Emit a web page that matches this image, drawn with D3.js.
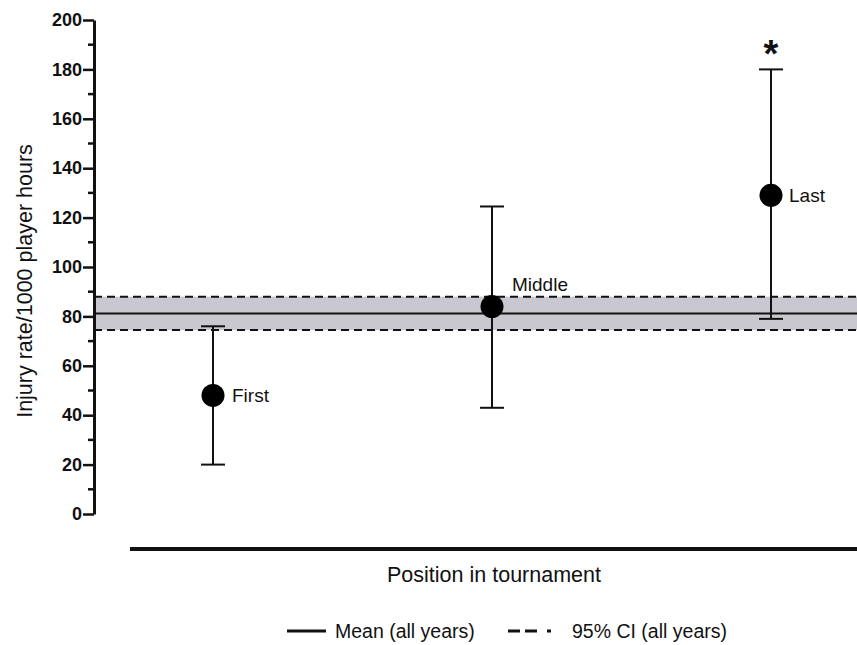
<!DOCTYPE html>
<html><head><meta charset="utf-8">
<script src="https://cdn.jsdelivr.net/npm/d3@7"></script>
<style>body{margin:0;background:#fff}svg{display:block;font-family:"Liberation Sans",Arial,sans-serif}</style>
</head><body><svg id="c" width="857" height="645"></svg>
<script>
const categories = ["First", "Middle", "Last"];
const means = [48, 84, 129];
const lower = [20, 43, 79];
const upper = [76, 124.5, 180];
const overallMean = [81.2];
const overallCI = [74.5, 88];
const yTicks = [0, 20, 40, 60, 80, 100, 120, 140, 160, 180, 200];
const significant = [false, false, true];

const svg = d3.select("#c");
const x = d3.scalePoint().domain(categories).range([213, 771]);
const y = d3.scaleLinear().domain([0, 200]).range([514, 20]);
const xL = 94, xR = 857;
const FF = "'Liberation Sans',Arial,sans-serif";

// CI band
svg.append("rect").attr("x", xL).attr("width", xR - xL)
  .attr("y", y(overallCI[1])).attr("height", y(overallCI[0]) - y(overallCI[1]))
  .attr("fill", "#c9c8d1");
overallCI.forEach(v => svg.append("line").attr("x1", xL).attr("x2", xR)
  .attr("y1", y(v)).attr("y2", y(v)).attr("stroke", "#111").attr("stroke-width", 2)
  .attr("stroke-dasharray", "8,5"));
svg.append("line").attr("x1", xL).attr("x2", xR)
  .attr("y1", y(overallMean[0])).attr("y2", y(overallMean[0]))
  .attr("stroke", "#111").attr("stroke-width", 2);

// Y axis
const yAxis = svg.append("g").attr("transform", `translate(${xL},0)`)
  .call(d3.axisLeft(y).tickValues(yTicks).tickSize(11).tickPadding(1).tickSizeOuter(0));
yAxis.select(".domain").attr("stroke", "#111").attr("stroke-width", 3);
yAxis.selectAll(".tick line").attr("stroke", "#111").attr("stroke-width", 2.5);
yAxis.selectAll(".tick text").attr("font-size", 18).attr("font-weight", "bold").attr("fill", "#111")
  .attr("font-family", FF);
const minor = d3.range(10, 200, 20);
svg.append("g").selectAll("line").data(minor).join("line")
  .attr("x1", xL - 6).attr("x2", xL).attr("y1", d => y(d)).attr("y2", d => y(d))
  .attr("stroke", "#111").attr("stroke-width", 2.5);

svg.append("text").attr("transform", `translate(32,281) rotate(-90)`)
  .attr("text-anchor", "middle").attr("font-size", 21.5).attr("fill", "#111")
  .text("Injury rate/1000 player hours");

// X axis
svg.append("line").attr("x1", 130).attr("x2", xR).attr("y1", 549).attr("y2", 549)
  .attr("stroke", "#111").attr("stroke-width", 4);
svg.append("text").attr("x", 494).attr("y", 582).attr("text-anchor", "middle")
  .attr("font-size", 21.5).attr("fill", "#111").text("Position in tournament");

// Error bars
const g = svg.append("g");
categories.forEach((c, i) => {
  const cx = x(c);
  g.append("line").attr("x1", cx).attr("x2", cx).attr("y1", y(lower[i])).attr("y2", y(upper[i]))
    .attr("stroke", "#111").attr("stroke-width", 2);
  [lower[i], upper[i]].forEach(v => g.append("line").attr("x1", cx - 12).attr("x2", cx + 12)
    .attr("y1", y(v)).attr("y2", y(v)).attr("stroke", "#111").attr("stroke-width", 2));
  g.append("circle").attr("cx", cx).attr("cy", y(means[i])).attr("r", 11.5).attr("fill", "#000");
  if (significant[i]) g.append("text").attr("x", cx).attr("y", y(upper[i]) - 2)
    .attr("text-anchor", "middle").attr("font-size", 38).attr("font-weight", "bold").attr("fill", "#111").text("*");
});
// point labels
const labelPos = [{dx: 19, v: means[0]}, {dx: 20, v: 93}, {dx: 18, v: means[2]}];
categories.forEach((c, i) => {
  g.append("text").attr("x", x(c) + labelPos[i].dx).attr("y", y(labelPos[i].v))
    .attr("dy", "0.35em").attr("font-size", 19).attr("fill", "#111").text(c);
});

// Legend
const ly = 631;
svg.append("line").attr("x1", 287).attr("x2", 326).attr("y1", ly).attr("y2", ly)
  .attr("stroke", "#111").attr("stroke-width", 3);
svg.append("text").attr("x", 335).attr("y", ly).attr("dy", "0.35em").attr("font-size", 19.5)
  .attr("fill", "#111").text("Mean (all years)");
svg.append("line").attr("x1", 508).attr("x2", 551).attr("y1", ly).attr("y2", ly)
  .attr("stroke", "#111").attr("stroke-width", 3).attr("stroke-dasharray", "12,5,12,10,4,0");
svg.append("text").attr("x", 572).attr("y", ly).attr("dy", "0.35em").attr("font-size", 19.5)
  .attr("fill", "#111").text("95% CI (all years)");
</script></body></html>
